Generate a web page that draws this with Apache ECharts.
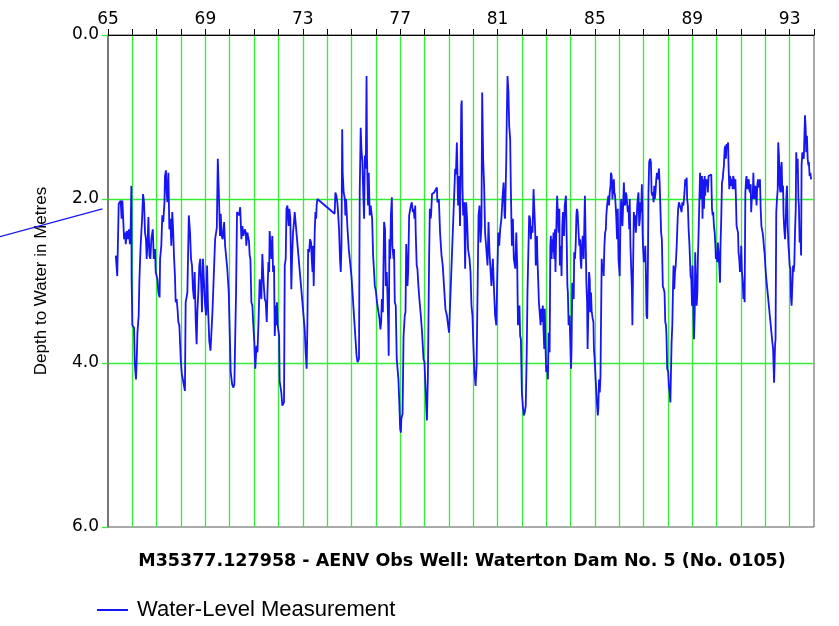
<!DOCTYPE html>
<html><head><meta charset="utf-8">
<script src="https://cdn.jsdelivr.net/npm/echarts@6/dist/echarts.min.js"></script>
<style>html,body{margin:0;padding:0;background:#fff}#c{width:839px;height:626px}</style>
</head><body><div id="c"></div>
<script>
// Decimal year, depth to water (m)
const preRecord = [[1960.56,2.46],[1964.77,2.12]];
const obs1965_1970 = [[1965.32,2.69],[1965.36,2.71],[1965.38,2.94],[1965.44,2.06],[1965.48,2.08],[1965.52,2.02],[1965.56,2.24],[1965.59,2.02],[1965.63,2.28],[1965.66,2.49],[1965.70,2.41],[1965.73,2.55],[1965.77,2.39],[1965.82,2.49],[1965.86,2.37],[1965.90,2.55],[1965.93,2.37],[1965.96,1.84],[1965.97,2.96],[1966.00,3.54],[1966.07,3.57],[1966.10,4.01],[1966.15,4.20],[1966.18,3.95],[1966.21,3.63],[1966.26,3.42],[1966.29,2.98],[1966.34,2.57],[1966.40,2.24],[1966.44,1.94],[1966.48,2.04],[1966.52,2.41],[1966.56,2.49],[1966.59,2.73],[1966.63,2.49],[1966.66,2.22],[1966.70,2.69],[1966.74,2.73],[1966.78,2.49],[1966.84,2.37],[1966.88,2.73],[1966.93,2.61],[1966.96,2.89],[1967.03,2.98],[1967.07,3.14],[1967.12,3.20],[1967.14,2.73],[1967.19,2.57],[1967.23,2.20],[1967.27,2.28],[1967.32,2.04],[1967.34,1.72],[1967.38,1.65],[1967.41,1.92],[1967.44,2.04],[1967.48,1.68],[1967.52,2.37],[1967.56,2.24],[1967.60,2.57],[1967.64,2.16],[1967.68,2.41],[1967.71,2.69],[1967.75,2.94],[1967.78,3.26],[1967.82,3.22],[1967.86,3.36],[1967.89,3.50],[1967.93,3.54],[1967.99,3.97],[1968.03,4.13],[1968.16,4.34],[1968.19,3.26],[1968.26,3.14],[1968.32,2.20],[1968.37,2.41],[1968.41,2.73],[1968.45,2.81],[1968.49,3.10],[1968.53,3.22],[1968.56,2.89],[1968.60,3.46],[1968.64,3.77],[1968.67,3.38],[1968.71,3.14],[1968.75,2.81],[1968.79,2.73],[1968.84,3.14],[1968.86,3.38],[1968.90,2.73],[1968.95,3.06],[1968.99,3.30],[1969.03,3.42],[1969.07,2.81],[1969.11,3.34],[1969.16,3.73],[1969.21,3.85],[1969.29,3.38],[1969.40,2.49],[1969.47,2.35],[1969.51,1.51],[1969.56,2.00],[1969.60,2.45],[1969.63,2.18],[1969.67,2.45],[1969.71,2.49],[1969.77,2.28],[1969.81,2.57],[1969.85,2.57],[1969.90,2.85],[1969.96,3.14],[1970.01,3.75],[1970.04,4.11],[1970.10,4.26],[1970.15,4.30],[1970.19,4.26],[1970.26,3.14],[1970.30,2.16],[1970.34,2.14],[1970.38,2.20],[1970.43,2.10],[1970.48,2.49],[1970.52,2.33],[1970.56,2.45]];
const obs1970_1976 = [[1970.62,2.37],[1970.66,2.41],[1970.68,2.57],[1970.73,2.41],[1970.75,2.45],[1970.79,2.51],[1970.82,2.69],[1970.85,2.73],[1970.89,3.26],[1970.93,3.30],[1970.97,3.54],[1971.01,3.75],[1971.05,4.07],[1971.10,3.79],[1971.14,3.87],[1971.19,3.42],[1971.23,2.98],[1971.27,3.14],[1971.30,3.22],[1971.34,2.67],[1971.38,2.94],[1971.41,3.10],[1971.44,3.22],[1971.48,3.26],[1971.52,3.50],[1971.55,3.14],[1971.59,2.77],[1971.62,2.89],[1971.64,2.39],[1971.68,2.37],[1971.71,2.73],[1971.75,2.45],[1971.78,2.89],[1971.82,2.81],[1971.85,3.67],[1971.89,3.30],[1971.92,3.54],[1971.94,3.26],[1971.97,3.54],[1972.03,3.67],[1972.05,4.22],[1972.10,4.24],[1972.12,4.36],[1972.16,4.52],[1972.21,4.54],[1972.23,4.48],[1972.26,2.81],[1972.30,2.73],[1972.33,2.12],[1972.37,2.08],[1972.40,2.24],[1972.42,2.33],[1972.45,2.12],[1972.49,2.24],[1972.53,3.10],[1972.56,2.73],[1972.60,2.41],[1972.64,2.28],[1972.67,2.16],[1972.71,2.14],[1972.74,2.16],[1973.08,3.59],[1973.12,3.87],[1973.16,4.07],[1973.19,3.54],[1973.22,2.61],[1973.26,2.65],[1973.30,2.49],[1973.34,2.53],[1973.37,2.73],[1973.40,2.89],[1973.42,2.57],[1973.45,3.06],[1973.49,2.41],[1973.52,2.16],[1973.55,2.24],[1973.57,2.08],[1973.60,2.00],[1974.31,2.18],[1974.34,1.92],[1974.38,1.96],[1974.42,2.04],[1974.45,2.16],[1974.49,2.37],[1974.53,2.73],[1974.56,2.89],[1974.59,2.57],[1974.62,1.15],[1974.64,1.68],[1974.68,1.92],[1974.73,2.00],[1974.75,2.20],[1974.78,2.00],[1974.81,2.20],[1974.84,2.37],[1974.89,2.61],[1974.93,2.63],[1975.00,2.94],[1975.21,3.91],[1975.25,3.99],[1975.27,4.01],[1975.31,3.95],[1975.34,1.92],[1975.38,1.13],[1975.41,1.39],[1975.45,1.55],[1975.48,1.88],[1975.52,2.24],[1975.55,1.47],[1975.59,1.63],[1975.62,0.50],[1975.64,1.51],[1975.68,2.08],[1975.71,1.68],[1975.75,2.20],[1975.79,2.08],[1975.85,2.24],[1975.89,2.69],[1975.93,2.89],[1975.96,3.06],[1975.99,3.10],[1976.01,3.14],[1976.05,3.26],[1976.09,3.34],[1976.15,3.46],[1976.19,3.59],[1976.22,3.50],[1976.25,3.22],[1976.29,3.38]];
const obs1976_1982 = [[1976.34,2.28],[1976.38,2.37],[1976.41,3.06],[1976.45,2.89],[1976.48,3.18],[1976.51,3.54],[1976.53,3.91],[1976.56,2.49],[1976.59,2.73],[1976.62,2.20],[1976.66,1.98],[1976.68,2.57],[1976.73,2.73],[1976.75,2.61],[1976.78,3.26],[1976.82,3.30],[1976.86,3.95],[1976.89,3.95],[1976.93,4.20],[1976.97,4.52],[1977.00,4.80],[1977.03,4.85],[1977.05,4.68],[1977.10,4.62],[1977.14,3.67],[1977.16,3.65],[1977.19,3.42],[1977.22,3.38],[1977.25,2.55],[1977.27,2.73],[1977.30,3.06],[1977.33,2.89],[1977.37,2.20],[1977.41,2.18],[1977.44,2.08],[1977.48,2.04],[1977.52,2.16],[1977.55,2.12],[1977.59,2.24],[1977.62,2.08],[1977.64,2.41],[1977.68,2.81],[1977.71,2.85],[1977.75,3.06],[1977.79,3.22],[1977.85,3.42],[1977.90,3.63],[1977.96,3.95],[1978.00,3.99],[1978.05,4.36],[1978.10,4.70],[1978.14,4.16],[1978.19,2.73],[1978.22,2.12],[1978.25,2.24],[1978.27,2.20],[1978.31,1.94],[1978.40,1.92],[1978.47,1.90],[1978.51,1.86],[1978.53,2.04],[1978.59,2.00],[1978.64,2.41],[1978.70,2.69],[1978.75,2.81],[1978.81,3.10],[1978.86,3.34],[1978.92,3.42],[1978.97,3.54],[1979.01,3.63],[1979.26,1.63],[1979.29,1.70],[1979.33,1.31],[1979.38,2.08],[1979.42,1.72],[1979.46,2.33],[1979.51,0.86],[1979.53,0.80],[1979.56,1.84],[1979.59,2.20],[1979.63,2.04],[1979.67,2.85],[1979.71,2.04],[1979.75,2.24],[1979.79,2.61],[1979.85,2.73],[1979.89,2.89],[1979.93,3.30],[1979.97,3.42],[1980.01,3.79],[1980.05,4.11],[1980.10,4.28],[1980.14,4.03],[1980.18,3.14],[1980.22,2.20],[1980.26,2.08],[1980.30,2.53],[1980.34,2.33],[1980.37,0.70],[1980.41,1.51],[1980.45,1.84],[1980.49,2.41],[1980.53,2.57],[1980.59,2.81],[1980.63,2.28],[1980.67,2.65],[1980.71,2.85],[1980.75,3.06],[1980.81,2.73],[1980.86,3.14],[1980.90,3.42],[1980.95,3.54],[1980.99,2.94],[1981.03,2.41],[1981.07,2.57],[1981.11,2.37],[1981.16,2.24],[1981.21,1.96],[1981.25,1.80],[1981.29,2.20],[1981.31,2.24],[1981.36,1.51],[1981.38,1.03],[1981.41,0.50],[1981.45,0.70],[1981.48,1.11],[1981.52,1.27],[1981.55,1.92],[1981.59,2.57],[1981.63,2.24],[1981.67,2.73],[1981.73,2.85],[1981.77,2.41],[1981.81,2.81],[1981.84,3.54],[1981.88,3.38],[1981.90,3.30],[1981.93,3.67],[1981.96,3.71],[1982.00,4.36],[1982.04,4.52],[1982.08,4.64],[1982.12,4.60]];
const obs1982_1988 = [[1982.16,4.52],[1982.20,3.87],[1982.23,3.14],[1982.26,3.14],[1982.30,2.20],[1982.34,2.24],[1982.37,2.49],[1982.40,2.33],[1982.44,2.41],[1982.48,1.88],[1982.52,1.88],[1982.55,2.41],[1982.57,2.81],[1982.62,2.45],[1982.64,2.73],[1982.67,2.98],[1982.70,3.26],[1982.74,3.26],[1982.77,3.54],[1982.79,3.34],[1982.84,3.50],[1982.86,3.30],[1982.89,3.59],[1982.92,3.83],[1982.94,3.34],[1982.97,3.79],[1983.00,4.11],[1983.04,4.03],[1983.07,4.20],[1983.10,3.63],[1983.14,3.87],[1983.17,2.57],[1983.19,2.45],[1983.22,2.73],[1983.25,2.49],[1983.27,2.65],[1983.30,2.41],[1983.33,2.73],[1983.36,2.37],[1983.38,2.89],[1983.43,2.16],[1983.45,1.96],[1983.48,2.20],[1983.51,2.41],[1983.54,2.12],[1983.56,2.81],[1983.60,2.57],[1983.63,2.94],[1983.66,2.33],[1983.69,2.16],[1983.73,2.45],[1983.76,2.08],[1983.78,2.08],[1983.81,1.96],[1983.84,2.45],[1983.87,3.06],[1983.89,3.14],[1983.92,3.54],[1983.96,3.42],[1983.99,3.75],[1984.02,4.07],[1984.04,3.83],[1984.07,3.02],[1984.10,3.14],[1984.13,3.22],[1984.15,2.65],[1984.18,2.73],[1984.21,2.57],[1984.24,2.20],[1984.26,2.12],[1984.29,2.16],[1984.33,2.41],[1984.36,2.57],[1984.39,2.49],[1984.41,2.73],[1984.44,2.85],[1984.47,2.57],[1984.50,2.45],[1984.54,2.73],[1984.57,2.24],[1984.59,1.96],[1984.62,2.49],[1984.65,3.02],[1984.68,3.26],[1984.70,3.83],[1984.73,3.38],[1984.76,2.89],[1984.79,2.98],[1984.81,3.38],[1984.84,3.14],[1984.87,3.38],[1984.91,3.46],[1984.94,3.50],[1984.96,3.83],[1984.99,3.95],[1985.03,4.20],[1985.06,4.36],[1985.09,4.52],[1985.12,4.64],[1985.14,4.56],[1985.17,4.20],[1985.20,4.36],[1985.23,4.16],[1985.25,3.54],[1985.28,2.73],[1985.31,2.89],[1985.34,2.81],[1985.36,2.94],[1985.39,2.57],[1985.42,2.41],[1985.45,2.37],[1985.47,2.20],[1985.50,2.08],[1985.53,2.00],[1985.56,1.96],[1985.58,2.08],[1985.61,1.92],[1985.64,1.84],[1985.66,1.68],[1985.69,1.72],[1985.72,2.00],[1985.75,1.84],[1985.78,1.76],[1985.80,1.92],[1985.83,1.96],[1985.86,2.12],[1985.88,2.24],[1985.91,2.49],[1985.94,2.12],[1985.97,2.73],[1985.99,2.73],[1986.02,2.94],[1986.05,2.24],[1986.08,2.00],[1986.10,2.12],[1986.13,2.33],[1986.16,2.08],[1986.19,1.80],[1986.21,1.96],[1986.24,2.08],[1986.27,1.92],[1986.30,1.96],[1986.32,2.04],[1986.35,2.16],[1986.38,2.08],[1986.41,2.37],[1986.43,2.00],[1986.46,2.57],[1986.49,2.57],[1986.52,3.10],[1986.54,3.54],[1986.57,2.81],[1986.60,2.16],[1986.63,2.33],[1986.65,2.20],[1986.68,2.41],[1986.71,2.28],[1986.74,2.08],[1986.76,2.00],[1986.79,1.92],[1986.82,2.33],[1986.85,2.24],[1986.87,2.04],[1986.90,2.16],[1986.93,1.82],[1986.96,2.41],[1986.98,2.61],[1987.01,2.77],[1987.04,2.73],[1987.07,2.57],[1987.09,2.81],[1987.12,3.42],[1987.15,3.46],[1987.18,2.73],[1987.20,1.92],[1987.23,1.55],[1987.27,1.51],[1987.30,1.55],[1987.33,1.92],[1987.36,1.96],[1987.38,1.92],[1987.41,2.04],[1987.44,1.84],[1987.46,2.00],[1987.49,1.92],[1987.52,1.76],[1987.55,1.68],[1987.57,1.72],[1987.60,1.76],[1987.63,1.63],[1987.66,1.80],[1987.68,1.80],[1987.72,2.41],[1987.75,2.49],[1987.79,3.06],[1987.83,3.10],[1987.86,3.14],[1987.89,3.50],[1987.92,3.54],[1987.94,3.67]];
const obs1988_1994 = [[1987.97,4.07],[1988.01,4.11],[1988.04,4.28],[1988.07,4.36],[1988.10,4.48],[1988.12,4.48],[1988.15,3.75],[1988.18,3.54],[1988.21,3.06],[1988.23,2.81],[1988.26,3.10],[1988.29,2.89],[1988.32,2.81],[1988.36,2.57],[1988.40,2.24],[1988.42,2.12],[1988.45,2.04],[1988.49,2.04],[1988.53,2.12],[1988.56,2.16],[1988.59,2.04],[1988.63,2.08],[1988.66,2.00],[1988.68,1.92],[1988.71,1.76],[1988.74,1.84],[1988.77,1.74],[1988.79,2.00],[1988.82,2.08],[1988.85,2.37],[1988.88,2.53],[1988.90,2.53],[1988.93,2.94],[1988.96,2.98],[1988.99,3.30],[1989.01,2.81],[1989.04,3.22],[1989.07,3.71],[1989.10,3.38],[1989.12,2.65],[1989.15,2.98],[1989.18,3.30],[1989.21,3.14],[1989.23,2.73],[1989.26,2.41],[1989.29,2.04],[1989.32,1.68],[1989.34,1.88],[1989.37,2.00],[1989.40,1.72],[1989.42,2.24],[1989.45,1.76],[1989.48,2.12],[1989.51,1.72],[1989.53,1.96],[1989.56,1.76],[1989.59,1.84],[1989.62,1.76],[1989.64,1.92],[1989.67,1.72],[1989.70,1.70],[1989.73,1.70],[1989.75,1.72],[1989.78,1.70],[1989.81,2.12],[1989.84,2.20],[1989.86,2.16],[1989.89,2.33],[1989.92,2.41],[1989.95,2.57],[1989.97,2.73],[1990.00,2.65],[1990.03,2.77],[1990.05,2.53],[1990.08,2.65],[1990.11,2.81],[1990.14,3.02],[1990.16,2.57],[1990.19,2.24],[1990.22,1.80],[1990.25,1.76],[1990.27,1.68],[1990.30,1.59],[1990.33,1.39],[1990.36,1.35],[1990.38,1.51],[1990.41,1.33],[1990.44,1.39],[1990.47,1.31],[1990.49,1.59],[1990.52,1.88],[1990.55,1.72],[1990.58,1.76],[1990.60,1.84],[1990.63,1.76],[1990.66,1.88],[1990.68,1.72],[1990.71,1.76],[1990.74,1.88],[1990.77,1.76],[1990.79,1.96],[1990.82,2.33],[1990.85,2.37],[1990.88,2.41],[1990.90,2.65],[1990.93,2.73],[1990.96,2.89],[1990.99,2.81],[1991.01,2.57],[1991.04,2.89],[1991.07,2.98],[1991.10,3.22],[1991.12,3.02],[1991.15,3.26],[1991.18,1.92],[1991.21,1.76],[1991.23,1.72],[1991.26,1.88],[1991.29,1.80],[1991.32,1.76],[1991.34,1.88],[1991.37,1.92],[1991.40,1.82],[1991.42,2.16],[1991.45,1.96],[1991.48,2.00],[1991.51,1.68],[1991.53,1.92],[1991.56,2.00],[1991.59,1.84],[1991.62,1.96],[1991.64,2.08],[1991.67,1.84],[1991.70,1.76],[1991.73,1.82],[1991.75,1.86],[1991.78,1.76],[1991.81,2.12],[1991.84,2.33],[1991.86,2.33],[1991.89,2.41],[1991.92,2.49],[1991.95,2.61],[1991.97,2.65],[1992.00,2.81],[1992.03,2.94],[1992.29,3.75],[1992.32,3.83],[1992.36,4.24],[1992.40,3.79],[1992.42,3.71],[1992.45,2.16],[1992.48,2.00],[1992.51,1.88],[1992.53,1.31],[1992.56,1.47],[1992.59,1.84],[1992.62,1.92],[1992.64,1.63],[1992.67,1.55],[1992.70,1.92],[1992.73,1.84],[1992.75,2.20],[1992.78,2.37],[1992.81,2.49],[1992.84,2.28],[1992.86,2.00],[1992.89,1.84],[1992.92,2.33],[1992.95,2.57],[1992.97,2.65],[1993.00,2.81],[1993.03,2.85],[1993.05,3.18],[1993.08,3.30],[1993.11,3.06],[1993.14,2.81],[1993.16,2.89],[1993.19,2.81],[1993.22,2.41],[1993.25,2.12],[1993.27,1.43],[1993.30,1.68],[1993.33,1.51],[1993.36,2.00],[1993.38,2.08],[1993.41,2.53],[1993.44,2.41],[1993.47,2.69],[1993.49,1.59],[1993.52,1.43],[1993.55,1.43],[1993.58,1.51],[1993.60,1.51],[1993.63,0.98],[1993.66,1.15],[1993.68,1.43],[1993.71,1.23],[1993.74,1.51],[1993.77,1.59],[1993.79,1.55],[1993.82,1.72],[1993.85,1.68],[1993.88,1.76]];

const yearTickLabels = [65,69,73,77,81,85,89,93];
const depthTickLabels = ['0.0','2.0','4.0','6.0'];
const titleText = 'M35377.127958 - AENV Obs Well: Waterton Dam No. 5 (No. 0105)';
const seriesName = 'Water-Level Measurement';
const yName = 'Depth to Water in Metres';

const observations = [].concat(obs1965_1970, obs1970_1976, obs1976_1982, obs1982_1988, obs1988_1994);

const GREEN = '#33ee33';
const BLUE = '#1515f5';
const chart = echarts.init(document.getElementById('c'), null, {renderer: 'canvas'});
chart.setOption({
  animation: false,
  backgroundColor: '#fff',
  grid: [
    {left: 108, right: 25, top: 35, bottom: 99, show: true, borderColor: '#555', borderWidth: 1, backgroundColor: 'transparent'},
    {left: 0, width: 108, top: 35, bottom: 99, show: false}
  ],
  xAxis: [{
    type: 'value', position: 'top', min: 1965, max: 1994, interval: 1, gridIndex: 0,
    axisLine: {show: true, lineStyle: {color: '#000', width: 1}},
    axisTick: {show: true, length: 6, lineStyle: {color: '#000'}},
    axisLabel: {
      margin: 7, color: '#000', fontSize: 17, fontFamily: 'DejaVu Sans',
      formatter: v => { const yy = Math.round(v) % 100; return yearTickLabels.indexOf(yy) >= 0 ? String(yy) : ''; }
    },
    splitLine: {show: true, showMinLine: false, showMaxLine: false, lineStyle: {color: GREEN, width: 1.3}}
  }, {
    type: 'value', gridIndex: 1, min: 1960.56, max: 1965, show: false
  }],
  yAxis: [{
    type: 'value', inverse: true, min: 0, max: 6, interval: 2, gridIndex: 0,
    name: yName, nameLocation: 'middle', nameRotate: 90, nameGap: 58,
    nameTextStyle: {color: '#000', fontSize: 17, fontFamily: 'Liberation Sans'},
    axisLine: {show: true, lineStyle: {color: '#666', width: 1.5}},
    axisTick: {show: true, length: 6, lineStyle: {color: GREEN, width: 1.3}},
    axisLabel: {margin: 9, color: '#000', fontSize: 17, fontFamily: 'DejaVu Sans',
      formatter: v => depthTickLabels[Math.round(v / 2)]},
    splitLine: {show: true, showMinLine: false, showMaxLine: false, lineStyle: {color: GREEN, width: 1.3}}
  }, {
    type: 'value', inverse: true, min: 0, max: 6, gridIndex: 1, show: false
  }],
  legend: {
    show: true, left: 97, top: 599, padding: 0, icon: 'rect', itemWidth: 31, itemHeight: 2,
    textStyle: {color: '#000', fontSize: 22, fontFamily: 'Liberation Sans', padding: [0,0,0,4]},
    data: [seriesName]
  },
  graphic: [{
    type: 'text', x: 462, y: 561,
    style: {text: titleText, fill: '#000', font: 'bold 17.5px "DejaVu Sans"', textAlign: 'center', textVerticalAlign: 'middle'}
  }],
  series: [
    {name: seriesName, type: 'line', data: observations, showSymbol: false, symbol: 'none',
     lineStyle: {color: BLUE, width: 1.8}, itemStyle: {color: BLUE}, z: 5},
    {name: seriesName, type: 'line', xAxisIndex: 1, yAxisIndex: 1, data: preRecord, showSymbol: false, symbol: 'none', clip: false,
     lineStyle: {color: BLUE, width: 1.2}, itemStyle: {color: BLUE}, z: 5}
  ]
});
</script></body></html>
